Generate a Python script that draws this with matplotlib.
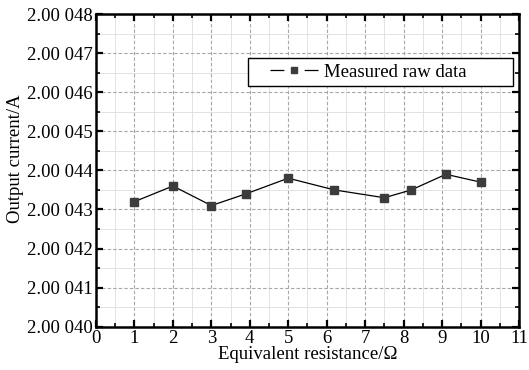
import matplotlib
matplotlib.use("Agg")
import matplotlib.pyplot as plt
from matplotlib.lines import Line2D
from matplotlib.legend_handler import HandlerLine2D
from matplotlib.ticker import MultipleLocator, FixedLocator

plt.rcParams["font.family"] = ["Liberation Serif", "DejaVu Serif"]
plt.rcParams["lines.scale_dashes"] = False

# measured output current vs equivalent resistance
resistance = [1, 2, 3, 3.9, 5, 6.2, 7.5, 8.2, 9.1, 10]
current = [2.000432, 2.000436, 2.000431, 2.000434, 2.000438,
           2.000435, 2.000433, 2.000435, 2.000439, 2.000437]

y_ticks = [2.00040, 2.00041, 2.00042, 2.00043, 2.00044,
           2.00045, 2.00046, 2.00047, 2.00048]
y_tick_labels = ["2.00 040", "2.00 041", "2.00 042", "2.00 043", "2.00 044",
                 "2.00 045", "2.00 046", "2.00 047", "2.00 048"]
x_ticks = list(range(0, 12))

FS = 13.5
MARK = "#3c3c3c"

fig = plt.figure(figsize=(5.29, 3.70), dpi=100)
ax = fig.add_axes([0.1815, 0.117, 0.7995, 0.845])

ax.plot(resistance, current, color="black", linewidth=0.9,
        marker="s", markersize=6, markerfacecolor=MARK,
        markeredgecolor=MARK, zorder=3)

ax.set_xlim(0, 11)
ax.set_ylim(y_ticks[0], y_ticks[-1])
ax.xaxis.set_major_locator(FixedLocator(x_ticks))
ax.xaxis.set_minor_locator(MultipleLocator(0.5))
ax.yaxis.set_major_locator(FixedLocator(y_ticks))
ax.yaxis.set_minor_locator(MultipleLocator(0.000005))
ax.set_xticklabels([str(t) for t in x_ticks])
ax.set_yticklabels(y_tick_labels)

ax.grid(which="major", color="#a8a8a8", linestyle=(0, (2.5, 1.5)), linewidth=0.8)
ax.grid(which="minor", color="#dedede", linestyle="-", linewidth=0.6)
ax.set_axisbelow(True)

ax.tick_params(which="both", direction="in", top=True, right=True,
               labelsize=FS, pad=2.5)
ax.tick_params(which="major", length=5, width=1.6)
ax.tick_params(which="minor", length=3, width=1.2)
for sp in ax.spines.values():
    sp.set_linewidth(1.8)

ax.set_xlabel("Equivalent resistance/\u03a9", fontsize=FS, labelpad=-1)
ax.set_ylabel("Output current/A", fontsize=FS, labelpad=2, y=0.538)

# legend key: line broken around the marker
key = Line2D([], [], color="black", linewidth=0.9,
             linestyle=(0, (10, 14.6, 10, 14.6)),
             marker="s", markersize=5, markerfacecolor=MARK, markeredgecolor=MARK)
leg = ax.legend([key], ["Measured raw data"], loc="upper left",
                bbox_to_anchor=(0.3593, 0.70, 0.6265, 0.1593), mode="expand",
                borderaxespad=0, fontsize=FS, fancybox=False, edgecolor="black",
                framealpha=1, handlelength=3.43, handletextpad=0.3, borderpad=0.3,
                handler_map={key: HandlerLine2D(xpad=0.867)})
leg.get_frame().set_linewidth(1.0)

fig.savefig("out.png", dpi=100)
